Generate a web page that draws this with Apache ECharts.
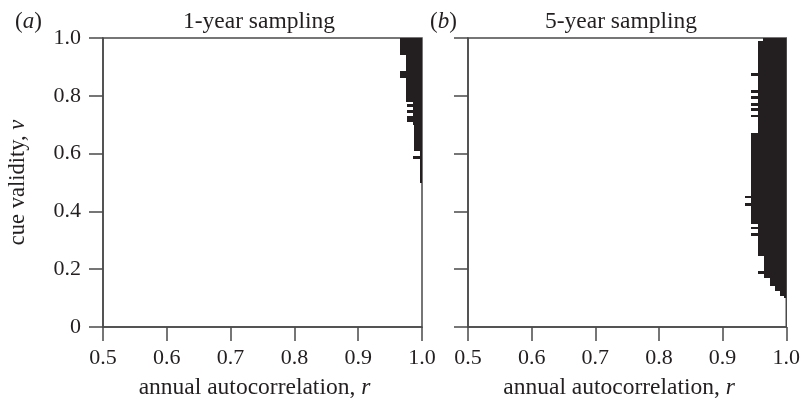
<!DOCTYPE html>
<html>
<head>
<meta charset="utf-8">
<script src="https://cdn.jsdelivr.net/npm/echarts@6/dist/echarts.min.js"></script>
<style>
  html, body { margin: 0; padding: 0; background: #fff; }
  #chart { width: 803px; height: 405px; }
</style>
</head>
<body>
<div id="chart"></div>
<script>
// x ticks (annual autocorrelation r) and y ticks (cue validity v)
const xTicks = [0.5, 0.6, 0.7, 0.8, 0.9, 1.0];
const yTicks = [0, 0.2, 0.4, 0.6, 0.8, 1.0];

// black bands: [r where black starts, v low, v high], black runs to r = 1
const bandsA = [
  [0.966, 0.94, 1.00],
  [0.975, 0.885, 0.94],
  [0.966, 0.86, 0.885],
  [0.975, 0.78, 0.86],
  [0.986, 0.77, 0.78],
  [0.977, 0.76, 0.77],
  [0.986, 0.75, 0.76],
  [0.977, 0.74, 0.75],
  [0.986, 0.73, 0.74],
  [0.976, 0.71, 0.73],
  [0.986, 0.70, 0.71],
  [0.987, 0.61, 0.70],
  [0.997, 0.59, 0.61],
  [0.986, 0.58, 0.59],
  [0.997, 0.50, 0.58]
];

const bandsB = [
  [0.964, 0.99, 1.00],
  [0.956, 0.88, 0.99],
  [0.944, 0.87, 0.88],
  [0.956, 0.82, 0.87],
  [0.944, 0.81, 0.82],
  [0.956, 0.80, 0.81],
  [0.944, 0.79, 0.80],
  [0.956, 0.775, 0.79],
  [0.944, 0.765, 0.775],
  [0.956, 0.758, 0.765],
  [0.944, 0.748, 0.758],
  [0.956, 0.735, 0.748],
  [0.944, 0.725, 0.735],
  [0.956, 0.672, 0.725],
  [0.945, 0.452, 0.672],
  [0.935, 0.445, 0.452],
  [0.945, 0.428, 0.445],
  [0.935, 0.417, 0.428],
  [0.945, 0.355, 0.417],
  [0.956, 0.345, 0.355],
  [0.944, 0.338, 0.345],
  [0.956, 0.324, 0.338],
  [0.944, 0.314, 0.324],
  [0.956, 0.245, 0.314],
  [0.965, 0.193, 0.245],
  [0.955, 0.183, 0.193],
  [0.965, 0.169, 0.183],
  [0.974, 0.141, 0.169],
  [0.983, 0.124, 0.141],
  [0.990, 0.107, 0.124],
  [0.996, 0.100, 0.107]
];

const FONT = "'Liberation Serif', 'DejaVu Serif', serif";
const INK = "#231f20";
const LINE = "#4a4a4a";

const chart = echarts.init(document.getElementById("chart"));

function rich(size) {
  return {
    n: { fontFamily: FONT, fontSize: size, color: INK, fontWeight: "normal" },
    i: { fontFamily: FONT, fontSize: size, color: INK, fontStyle: "italic", fontWeight: "normal" }
  };
}

function xAxis(gridIndex) {
  return {
    type: "value", gridIndex,
    min: xTicks[0], max: xTicks[xTicks.length - 1], interval: 0.1,
    name: "{n|annual autocorrelation, }{i|r}",
    nameLocation: "middle", nameGap: 49,
    nameTextStyle: { rich: rich(23.5), padding: [0, 16, 0, 0] },
    axisLine: { show: true, lineStyle: { color: LINE, width: 1.5 } },
    axisTick: { show: true, length: 14, lineStyle: { color: LINE, width: 1.5 } },
    axisLabel: { margin: 20, fontFamily: FONT, fontSize: 22, color: INK, formatter: (v) => v.toFixed(1) },
    splitLine: { show: false }
  };
}

function yAxis(gridIndex, labels) {
  return {
    type: "value", gridIndex,
    min: yTicks[0], max: yTicks[yTicks.length - 1], interval: 0.2,
    name: labels ? "{n|cue validity, }{i|v}" : "",
    nameLocation: "middle", nameGap: 73,
    nameTextStyle: { rich: rich(22.5) },
    axisLine: { show: true, lineStyle: { color: LINE, width: 1.5 } },
    axisTick: { show: true, length: 14, lineStyle: { color: LINE, width: 1.5 } },
    axisLabel: { show: labels, margin: 22, fontFamily: FONT, fontSize: 22, color: INK,
      formatter: (v) => (v === 0 ? "0" : v.toFixed(1)) },
    splitLine: { show: false }
  };
}

function renderBand(params, api) {
  const p0 = api.coord([api.value(0), api.value(2)]);
  const p1 = api.coord([xTicks[xTicks.length - 1], api.value(1)]);
  const x0 = Math.round(p0[0]), y0 = Math.round(p0[1]);
  const x1 = Math.round(p1[0]), y1 = Math.round(p1[1]);
  return {
    type: "rect",
    shape: { x: x0, y: y0, width: x1 - x0, height: y1 - y0 },
    style: { fill: INK }
  };
}

function bandSeries(idx, data) {
  return {
    type: "custom", xAxisIndex: idx, yAxisIndex: idx,
    renderItem: renderBand,
    encode: { x: 0, y: [1, 2] },
    data, z: 3, silent: true
  };
}

const option = {
  animation: false,
  backgroundColor: "#fff",
  title: [
    { text: "{n|(}{i|a}{n|)}", left: 10, top: 5, textStyle: { rich: rich(23) } },
    { text: "{n|(}{i|b}{n|)}", left: 425, top: 5, textStyle: { rich: rich(23) } },
    { text: "1-year sampling", left: 254, top: 5, textAlign: "center",
      textStyle: { fontFamily: FONT, fontSize: 23.5, fontWeight: "normal", color: INK } },
    { text: "5-year sampling", left: 616, top: 5, textAlign: "center",
      textStyle: { fontFamily: FONT, fontSize: 23.5, fontWeight: "normal", color: INK } }
  ],
  grid: [
    { left: 103, top: 38, width: 319, height: 290, show: true, borderColor: LINE, borderWidth: 1.5 },
    { left: 468, top: 38, width: 320, height: 290, show: true, borderColor: LINE, borderWidth: 1.5 }
  ],
  xAxis: [xAxis(0), xAxis(1)],
  yAxis: [yAxis(0, true), yAxis(1, false)],
  series: [bandSeries(0, bandsA), bandSeries(1, bandsB)]
};

chart.setOption(option);
</script>
</body>
</html>
